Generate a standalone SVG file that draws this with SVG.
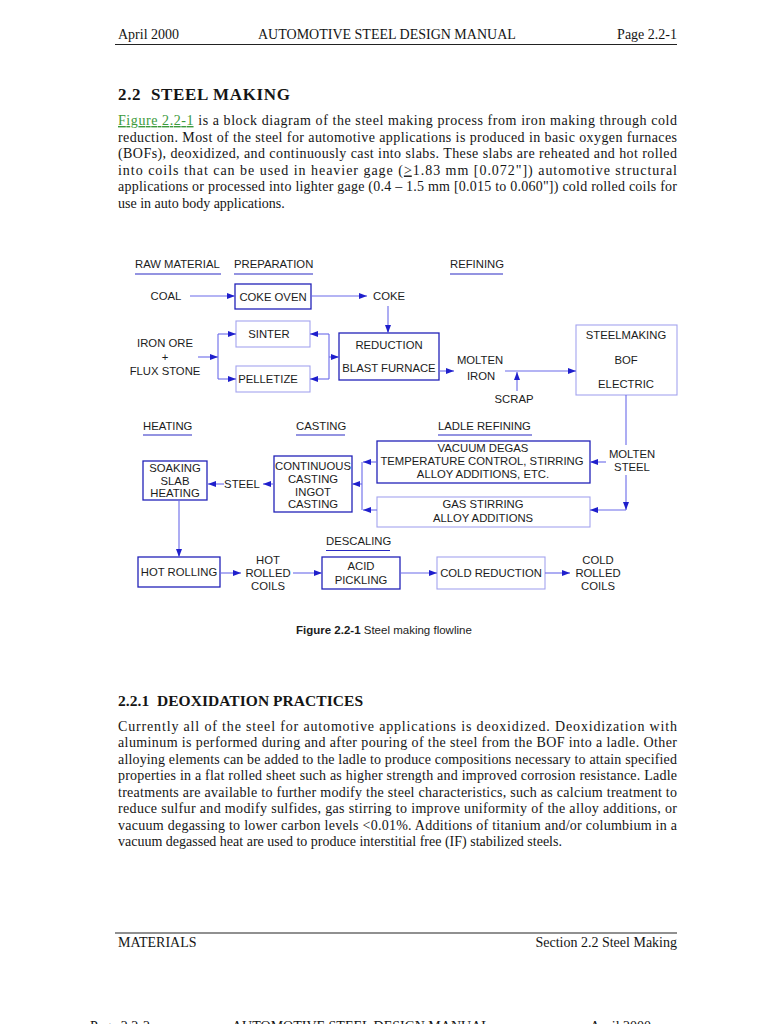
<svg xmlns="http://www.w3.org/2000/svg" width="768" height="1024" viewBox="0 0 768 1024">
<style>
.pg{font-family:"Liberation Serif","Times New Roman",serif;font-size:14px;fill:#151515}
.hd{font-family:"Liberation Serif","Times New Roman",serif;font-weight:bold;fill:#151515}
.d{font-family:"Liberation Sans",Arial,sans-serif;font-size:11.3px;fill:#1c1c1c;text-anchor:middle}
.sl{font-family:"Liberation Sans",Arial,sans-serif;font-size:11.3px;fill:#1c1c1c}
.bd{fill:none;stroke:#2323b8;stroke-width:1.3}
.bl{fill:none;stroke:#a4a4ee;stroke-width:1.1}
.ul{stroke:#2a2ac4;stroke-width:1.2}
.c{fill:none;stroke:#6a6aea;stroke-width:1.1}
.a{marker-end:url(#ah)}
.rule{stroke:#222;stroke-width:1.2}
</style>
<defs>
<marker id="ah" markerUnits="userSpaceOnUse" markerWidth="8" markerHeight="6" refX="8" refY="3" orient="auto">
<path d="M0,0 L8,3 L0,6 z" fill="#1f1fcc"/>
</marker>
</defs>
<rect width="768" height="1024" fill="#ffffff"/>

<!-- header -->
<text class="pg" x="118" y="39">April 2000</text>
<text class="pg" x="258" y="39">AUTOMOTIVE STEEL DESIGN MANUAL</text>
<text class="pg" x="677" y="39" text-anchor="end">Page 2.2-1</text>
<line class="rule" x1="115" y1="44.5" x2="677" y2="44.5"/>

<text class="hd" x="118" y="100" font-size="17" xml:space="preserve" textLength="172" lengthAdjust="spacing">2.2  STEEL MAKING</text>

<text class="pg" x="118" y="125" textLength="559" lengthAdjust="spacing"><tspan fill="#3c9a3c" text-decoration="underline">Figure 2.2-1</tspan> is a block diagram of the steel making process from iron making through cold</text>
<text class="pg" x="118" y="141.5" textLength="559" lengthAdjust="spacing">reduction.  Most of the steel for automotive applications is produced in basic oxygen furnaces</text>
<text class="pg" x="118" y="158" textLength="559" lengthAdjust="spacing">(BOFs), deoxidized, and continuously cast into slabs.  These slabs are reheated and hot rolled</text>
<text class="pg" x="118" y="174.5" textLength="559" lengthAdjust="spacing">into coils that can be used in heavier gage (<tspan text-decoration="underline">&gt;</tspan>1.83 mm [0.072"]) automotive structural</text>
<text class="pg" x="118" y="191" textLength="559" lengthAdjust="spacing">applications or processed into lighter gage (0.4 – 1.5 mm [0.015 to 0.060"]) cold rolled coils for</text>
<text class="pg" x="118" y="207.5">use in auto body applications.</text>

<!-- section labels -->
<g id="labels">
<text class="sl" x="135" y="268">RAW MATERIAL</text><line class="ul" x1="135" y1="274" x2="221" y2="274"/>
<text class="sl" x="234" y="268">PREPARATION</text><line class="ul" x1="234" y1="274" x2="313" y2="274"/>
<text class="sl" x="450" y="268">REFINING</text><line class="ul" x1="450" y1="274" x2="503" y2="274"/>
<text class="sl" x="143" y="430">HEATING</text><line class="ul" x1="143" y1="435" x2="192" y2="435"/>
<text class="sl" x="296" y="430">CASTING</text><line class="ul" x1="296" y1="435" x2="345" y2="435"/>
<text class="sl" x="438" y="430">LADLE REFINING</text><line class="ul" x1="438" y1="435" x2="532" y2="435"/>
<text class="sl" x="326" y="545">DESCALING</text><line class="ul" x1="326" y1="550.5" x2="390" y2="550.5"/>
</g>

<!-- nodes -->
<g id="coal"><text class="d" x="166" y="300">COAL</text></g>
<g id="coke-oven"><rect class="bd" x="235" y="284" width="76" height="25"/><text class="d" x="273" y="300.5">COKE OVEN</text></g>
<g id="coke"><text class="d" x="389" y="300">COKE</text></g>
<g id="iron-ore"><text class="d" x="165" y="347">IRON ORE</text><text class="d" x="165" y="361">+</text><text class="d" x="165" y="374.5">FLUX STONE</text></g>
<g id="sinter"><rect class="bl" x="236" y="321" width="74" height="26"/><text class="d" x="269" y="338">SINTER</text></g>
<g id="pelletize"><rect class="bl" x="236" y="366" width="74" height="26"/><text class="d" x="268" y="383">PELLETIZE</text></g>
<g id="blast-furnace"><rect class="bd" x="339" y="333" width="100" height="47"/><text class="d" x="389" y="349">REDUCTION</text><text class="d" x="389" y="371.5">BLAST FURNACE</text></g>
<g id="molten-iron"><text class="d" x="480" y="364">MOLTEN</text><text class="d" x="481" y="380">IRON</text></g>
<g id="scrap"><text class="d" x="514" y="403">SCRAP</text></g>
<g id="steelmaking"><rect class="bl" x="576" y="325" width="101" height="70"/><text class="d" x="626" y="338.5">STEELMAKING</text><text class="d" x="626" y="364">BOF</text><text class="d" x="626" y="387.5">ELECTRIC</text></g>
<g id="molten-steel"><text class="d" x="632" y="457.5">MOLTEN</text><text class="d" x="632" y="471">STEEL</text></g>
<g id="vacuum-degas"><rect class="bd" x="377" y="441" width="213" height="42"/><text class="d" x="483" y="451.5">VACUUM DEGAS</text><text class="d" x="482" y="464.5">TEMPERATURE CONTROL, STIRRING</text><text class="d" x="483" y="477.5">ALLOY ADDITIONS, ETC.</text></g>
<g id="gas-stirring"><rect class="bl" x="377" y="497" width="213" height="30"/><text class="d" x="483" y="508">GAS STIRRING</text><text class="d" x="483" y="521.5">ALLOY ADDITIONS</text></g>
<g id="continuous-casting"><rect class="bd" x="274" y="456" width="78" height="56"/><text class="d" x="313" y="470">CONTINUOUS</text><text class="d" x="313" y="483">CASTING</text><text class="d" x="313" y="495.5">INGOT</text><text class="d" x="313" y="508">CASTING</text></g>
<g id="steel"><text class="d" x="242" y="487.5">STEEL</text></g>
<g id="soaking"><rect class="bd" x="143" y="461" width="64" height="39"/><text class="d" x="175" y="472">SOAKING</text><text class="d" x="175" y="485">SLAB</text><text class="d" x="175" y="497">HEATING</text></g>
<g id="hot-rolling"><rect class="bd" x="138" y="557" width="82" height="30"/><text class="d" x="179" y="576">HOT ROLLING</text></g>
<g id="hot-rolled-coils"><text class="d" x="268" y="564">HOT</text><text class="d" x="268" y="577">ROLLED</text><text class="d" x="268" y="590">COILS</text></g>
<g id="acid-pickling"><rect class="bd" x="322" y="557" width="78" height="32"/><text class="d" x="361" y="570">ACID</text><text class="d" x="361" y="583.5">PICKLING</text></g>
<g id="cold-reduction"><rect class="bl" x="437" y="557" width="108" height="32"/><text class="d" x="491" y="577">COLD REDUCTION</text></g>
<g id="cold-rolled-coils"><text class="d" x="598" y="564">COLD</text><text class="d" x="598" y="577">ROLLED</text><text class="d" x="598" y="590">COILS</text></g>

<!-- connectors -->
<g id="connectors">
<line class="c a" x1="190" y1="296" x2="235" y2="296"/>
<line class="c a" x1="311" y1="296" x2="367" y2="296"/>
<line class="c a" x1="388" y1="306" x2="388" y2="333"/>
<line class="c a" x1="198" y1="357" x2="218" y2="357"/>
<line class="c" x1="218" y1="334" x2="218" y2="379"/>
<line class="c a" x1="218" y1="334" x2="236" y2="334"/>
<line class="c a" x1="218" y1="379" x2="236" y2="379"/>
<line class="c" x1="329" y1="334" x2="329" y2="379"/>
<line class="c a" x1="329" y1="334" x2="310" y2="334"/>
<line class="c a" x1="329" y1="379" x2="310" y2="379"/>
<line class="c a" x1="329" y1="357" x2="339" y2="357"/>
<line class="c a" x1="439" y1="371" x2="454" y2="371"/>
<line class="c a" x1="505" y1="371" x2="576" y2="371"/>
<line class="c a" x1="517" y1="391" x2="517" y2="372"/>
<line class="c" x1="626" y1="395" x2="626" y2="445"/>
<line class="c a" x1="626" y1="475" x2="626" y2="510"/>
<line class="c a" x1="626" y1="510" x2="590" y2="510"/>
<line class="c a" x1="606" y1="462" x2="590" y2="462"/>
<line class="c a" x1="377" y1="462" x2="363" y2="462"/>
<line class="c a" x1="377" y1="510" x2="363" y2="510"/>
<line class="c" x1="362" y1="462" x2="362" y2="510"/>
<line class="c a" x1="362" y1="484" x2="352" y2="484"/>
<line class="c a" x1="274" y1="484" x2="263" y2="484"/>
<line class="c a" x1="224" y1="484" x2="208" y2="484"/>
<line class="c a" x1="179" y1="500" x2="179" y2="557"/>
<line class="c a" x1="220" y1="573" x2="241" y2="573"/>
<line class="c a" x1="293" y1="573" x2="322" y2="573"/>
<line class="c a" x1="400" y1="573" x2="437" y2="573"/>
<line class="c a" x1="545" y1="573" x2="570" y2="573"/>
</g>

<text x="296" y="633.5" font-family="Liberation Sans, Arial, sans-serif" font-size="11.5" fill="#1c1c1c"><tspan font-weight="bold">Figure 2.2-1</tspan> Steel making flowline</text>

<text class="hd" x="118" y="706" font-size="15.5" xml:space="preserve" textLength="245" lengthAdjust="spacing">2.2.1  DEOXIDATION PRACTICES</text>

<text class="pg" x="118" y="730.5" textLength="559" lengthAdjust="spacing">Currently all of the steel for automotive applications is deoxidized.  Deoxidization with</text>
<text class="pg" x="118" y="747" textLength="559" lengthAdjust="spacing">aluminum is performed during and after pouring of the steel from the BOF into a ladle. Other</text>
<text class="pg" x="118" y="763.5" textLength="559" lengthAdjust="spacing">alloying elements can be added to the ladle to produce compositions necessary to attain specified</text>
<text class="pg" x="118" y="780" textLength="559" lengthAdjust="spacing">properties in a flat rolled sheet such as higher strength and improved corrosion resistance.  Ladle</text>
<text class="pg" x="118" y="796.5" textLength="559" lengthAdjust="spacing">treatments are available to further modify the steel characteristics, such as calcium treatment to</text>
<text class="pg" x="118" y="813" textLength="559" lengthAdjust="spacing">reduce sulfur and modify sulfides, gas stirring to improve uniformity of the alloy additions, or</text>
<text class="pg" x="118" y="829.5" textLength="559" lengthAdjust="spacing">vacuum degassing to lower carbon levels &lt;0.01%.  Additions of titanium and/or columbium in a</text>
<text class="pg" x="118" y="846">vacuum degassed heat are used to produce interstitial free (IF) stabilized steels.</text>

<!-- footer -->
<line class="rule" x1="115" y1="933" x2="677" y2="933"/>
<text class="pg" x="118" y="947">MATERIALS</text>
<text class="pg" x="677" y="947" text-anchor="end">Section 2.2 Steel Making</text>

<text class="pg" x="90" y="1031">Page 2.2-2</text>
<text class="pg" x="232" y="1031">AUTOMOTIVE STEEL DESIGN MANUAL</text>
<text class="pg" x="590" y="1031">April 2000</text>
</svg>
